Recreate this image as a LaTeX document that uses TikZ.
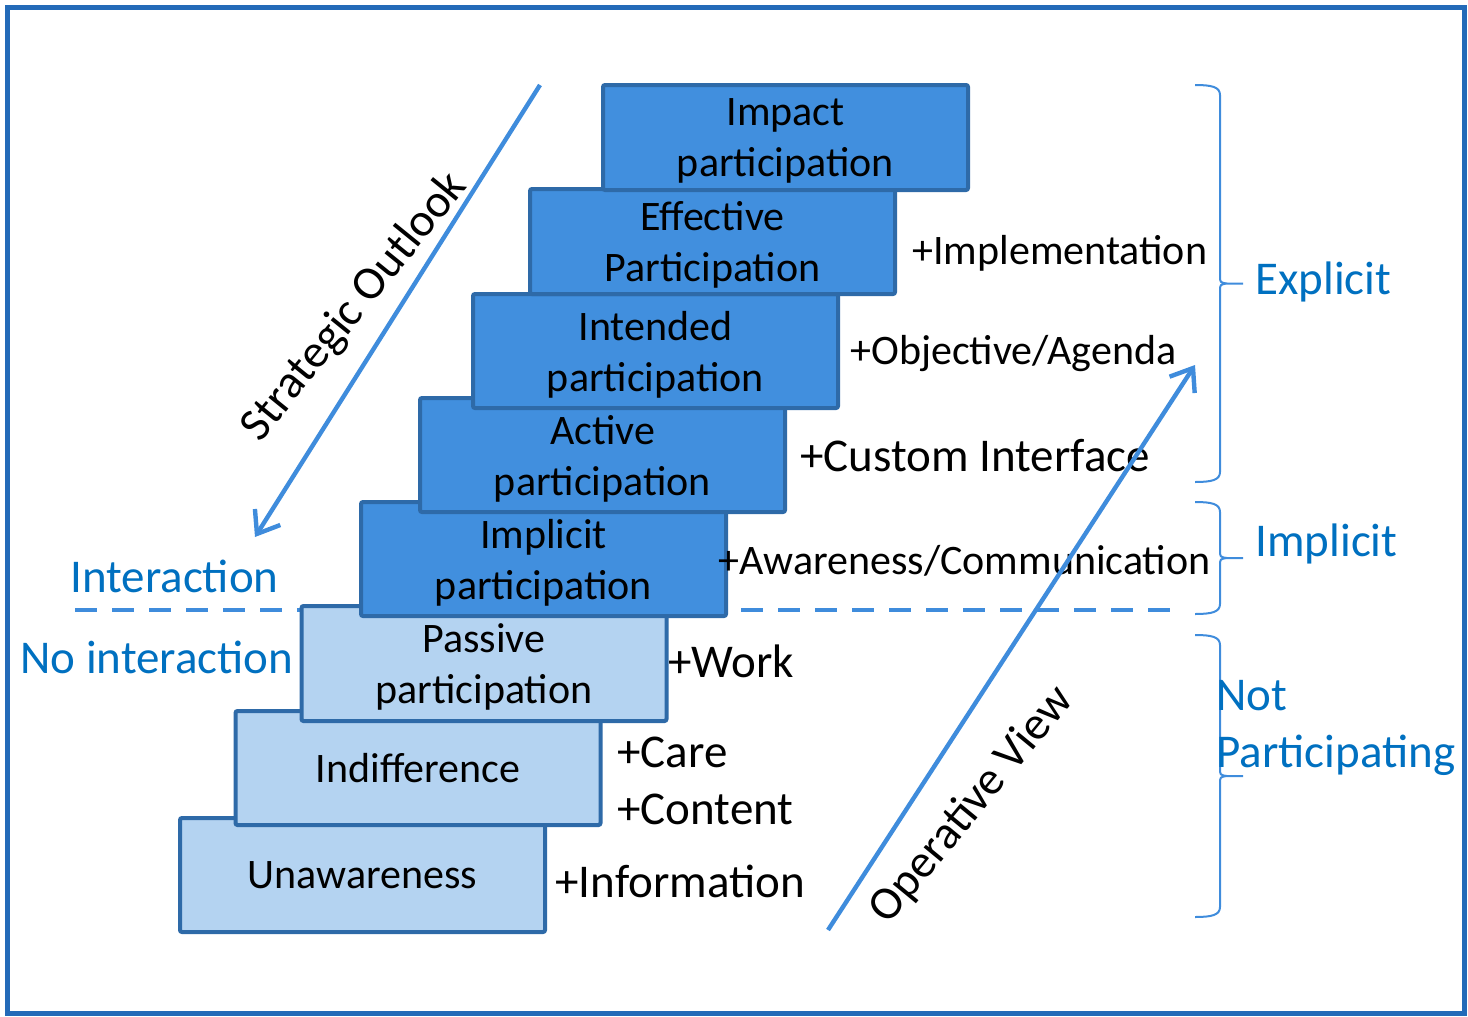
\documentclass[tikz,border=0pt]{standalone}
\usepackage{fontspec}
\setmainfont{Carlito}
\usetikzlibrary{arrows.meta}
\definecolor{frameblue}{RGB}{35,106,184}
\definecolor{edgeblue}{RGB}{46,106,168}
\definecolor{darkfill}{RGB}{65,143,222}
\definecolor{lightfill}{RGB}{180,211,241}
\definecolor{lineblue}{RGB}{63,140,220}
\definecolor{textblue}{RGB}{0,112,192}
\def\px{0.5pt}
\def\bw{182.5pt}
\def\boxfont{\fontsize{21}{25.5}\selectfont}
\def\bigfont{\fontsize{23.5}{28.5}\selectfont}
% right brace at x=1195, from top #1 to bottom #3, tip at #2
\newcommand\groupbrace[3]{%
  \draw [lineblue,line width=1pt]
    (1195,#1) .. controls (1212,#1) and (1220,#1+2) .. (1220,#1+10)
    -- (1220,#2-8) .. controls (1220,#2-1) .. (1227,#2) -- (1243,#2)
    (1227,#2) .. controls (1220,#2+1) .. (1220,#2+8)
    -- (1220,#3-10) .. controls (1220,#3-2) and (1212,#3) .. (1195,#3);}

\begin{document}
\begin{tikzpicture}[x=\px,y=-\px,
  stair/.style={draw=edgeblue,line width=2pt,rounded corners=1pt,
    minimum width=\bw,align=center,inner sep=0pt,text depth=0pt,font=\boxfont},
  hi/.style={stair,fill=darkfill},
  lo/.style={stair,fill=lightfill},
  plus/.style={anchor=base west,inner sep=0pt,font=\bigfont},
  plussm/.style={plus,font=\boxfont},
  side/.style={anchor=base west,inner sep=0pt,text=textblue,font=\bigfont},
  view/.style={draw=lineblue,line width=2.2pt,-{Straight Barb[length=10pt,width=15pt]}}]
\useasboundingbox (0,0) rectangle (1468,1017);
% frame
\draw [frameblue,line width=2.5pt] (7.5,7.5) rectangle (1464.5,1013);
% border between interaction and no interaction
\draw [lineblue,line width=2.2pt,dash pattern=on 11pt off 7.5pt] (75,610) -- (1180,610);
% the stairs, lowest first
\node [lo,minimum height=57pt] (unaware) at (362.5,875) {Unawareness};
\node [lo,minimum height=57pt] (indiff) at (418,768) {Indifference};
\node [lo,minimum height=57.5pt] (passive) at (484,663.5) {Passive\\participation};
\node [hi,minimum height=57pt] (implicit) at (543.5,559) {Implicit\\participation};
\node [hi,minimum height=57pt] (active) at (602.5,455) {Active\\participation};
\node [hi,minimum height=57pt] (intended) at (655.5,351) {Intended\\participation};
\node [hi,minimum height=52.5pt] (effective) at (712.5,241.5) {Effective\\Participation};
\node [hi,minimum height=52.5pt] (impact) at (785.5,137.5) {Impact\\participation};
% what each step adds
\node [plus] (pinfo) at (555,897) {+Information};
\node [plus] (pcontent) at (617,824) {+Content};
\node [plus] (pcare) at (617,767) {+Care};
\node [plus] (pwork) at (668,677) {+Work};
\node [plussm] (paware) at (718,574) {+Awareness/Communication};
\node [plus] (pcustom) at (800,471) {+Custom Interface};
\node [plussm] (pobj) at (850,364) {+Objective/Agenda};
\node [plussm] (pimpl) at (912,264) {+Implementation};
% left labels
\node [side] (inter) at (70,592) {Interaction};
\node [side] (nointer) at (20,673) {No interaction};
% braces on the right
\groupbrace{85}{283.5}{482}
\groupbrace{502}{558}{614}
\groupbrace{635}{776}{917}
\node [side] (explicit) at (1255,294) {Explicit};
\node [side] (impl) at (1255,556) {Implicit};
\node [side,anchor=west,align=left] (notpart) at (1216,728) {Not\\Participating};
% the two views
\coordinate (so1) at (540,85);
\coordinate (so2) at (255,537);
\coordinate (ov1) at (828,930);
\coordinate (ov2) at (1195,365);
\draw [view] (so1) -- (so2);
\draw [view] (ov1) -- (ov2);
\node [rotate=51,font=\bigfont,inner sep=0pt] (strat) at (355,307) {Strategic Outlook};
\node [rotate=50.5,font=\bigfont,inner sep=0pt] (oper) at (972,805) {Operative View};
\end{tikzpicture}
\end{document}
